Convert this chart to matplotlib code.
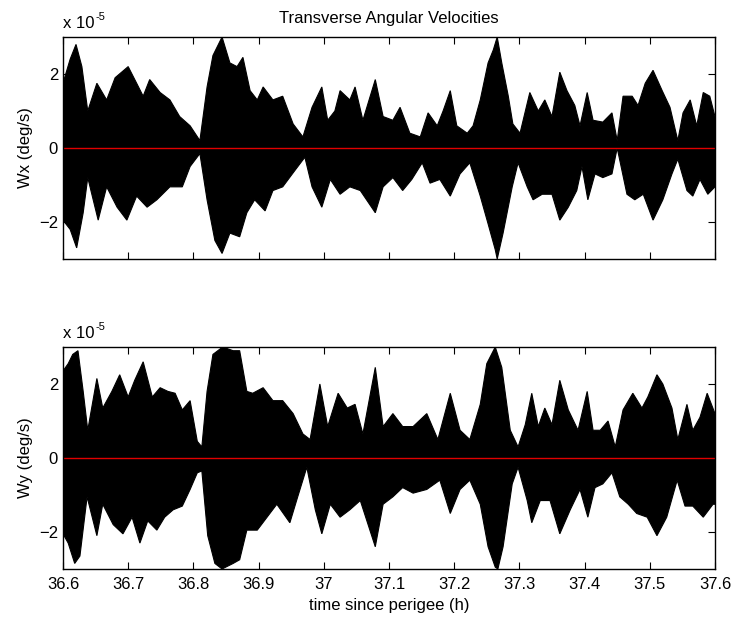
import numpy as np
import matplotlib
matplotlib.use("Agg")
import matplotlib.pyplot as plt

plt.rcParams['font.family'] = ['Liberation Sans', 'DejaVu Sans']

# ---- data (values in units of 1e-5 deg/s) ----
wx_up_t = [36.600, 36.611, 36.620, 36.629, 36.638, 36.652, 36.667, 36.680, 36.700, 36.713,
           36.723, 36.733, 36.749, 36.764, 36.779, 36.795, 36.810, 36.821, 36.830, 36.844,
           36.856, 36.867, 36.876, 36.887, 36.898, 36.907, 36.922, 36.937, 36.953, 36.968,
           36.982, 36.997, 37.006, 37.017, 37.025, 37.040, 37.048, 37.060, 37.079, 37.091,
           37.106, 37.117, 37.132, 37.148, 37.160, 37.174, 37.183, 37.194, 37.204, 37.220,
           37.229, 37.240, 37.252, 37.260, 37.266, 37.273, 37.283, 37.290, 37.301, 37.316,
           37.329, 37.339, 37.350, 37.362, 37.373, 37.385, 37.393, 37.404, 37.413, 37.428,
           37.442, 37.450, 37.459, 37.473, 37.482, 37.493, 37.505, 37.519, 37.531, 37.543,
           37.551, 37.562, 37.572, 37.582, 37.592, 37.600]
wx_up = [1.75, 2.4, 2.8, 2.2, 1.0, 1.75, 1.3, 1.9, 2.2, 1.75,
         1.4, 1.85, 1.5, 1.3, 0.85, 0.6, 0.2, 1.65, 2.5, 3.0,
         2.3, 2.2, 2.45, 1.55, 1.3, 1.65, 1.3, 1.4, 0.65, 0.3,
         1.1, 1.65, 0.75, 1.0, 1.55, 1.3, 1.65, 0.75, 1.85, 0.85,
         0.75, 1.1, 0.4, 0.3, 0.95, 0.6, 1.0, 1.55, 0.6, 0.4,
         0.6, 1.3, 2.3, 2.65, 3.0, 2.3, 1.4, 0.65, 0.4, 1.5,
         1.0, 1.3, 0.85, 2.05, 1.55, 1.15, 0.6, 1.5, 0.75, 0.7,
         0.95, 0.2, 1.4, 1.4, 1.15, 1.75, 2.1, 1.55, 1.1, 0.2,
         0.95, 1.3, 0.6, 1.5, 1.4, 0.85]

wx_lo_t = [36.600, 36.611, 36.621, 36.631, 36.638, 36.654, 36.667, 36.683, 36.698, 36.713,
           36.729, 36.744, 36.764, 36.783, 36.795, 36.810, 36.821, 36.833, 36.844, 36.856,
           36.871, 36.882, 36.894, 36.910, 36.922, 36.937, 36.956, 36.971, 36.982, 36.997,
           37.010, 37.025, 37.040, 37.056, 37.079, 37.091, 37.106, 37.121, 37.135, 37.151,
           37.163, 37.178, 37.194, 37.209, 37.224, 37.240, 37.252, 37.263, 37.266, 37.275,
           37.289, 37.298, 37.312, 37.321, 37.335, 37.350, 37.362, 37.375, 37.388, 37.396,
           37.405, 37.416, 37.428, 37.442, 37.450, 37.465, 37.477, 37.490, 37.505, 37.520,
           37.534, 37.543, 37.557, 37.566, 37.577, 37.589, 37.600]
wx_lo = [-1.95, -2.2, -2.7, -1.75, -0.8, -1.95, -1.05, -1.6, -1.95, -1.3,
         -1.6, -1.4, -1.05, -1.05, -0.5, -0.15, -1.4, -2.5, -2.85, -2.3,
         -2.4, -1.75, -1.4, -1.7, -1.15, -1.05, -0.6, -0.25, -1.05, -1.6,
         -0.85, -1.25, -1.05, -1.15, -1.75, -1.05, -0.8, -1.15, -0.85, -0.4,
         -0.95, -0.85, -1.3, -0.7, -0.4, -1.3, -2.05, -2.75, -3.0, -2.3,
         -1.05, -0.4, -1.05, -1.4, -1.25, -1.25, -1.95, -1.6, -1.15, -0.5,
         -1.4, -0.7, -0.8, -0.7, 0.0, -1.25, -1.4, -1.25, -1.95, -1.4,
         -0.7, -0.3, -1.15, -1.3, -0.85, -1.25, -1.05]

wy_up_t = [36.600, 36.608, 36.615, 36.623, 36.631, 36.638, 36.652, 36.661, 36.675, 36.687,
           36.700, 36.710, 36.723, 36.737, 36.749, 36.761, 36.772, 36.783, 36.795, 36.806,
           36.813, 36.821, 36.830, 36.845, 36.861, 36.871, 36.882, 36.891, 36.907, 36.922,
           36.937, 36.953, 36.968, 36.979, 36.994, 37.006, 37.022, 37.036, 37.048, 37.060,
           37.079, 37.091, 37.106, 37.121, 37.137, 37.158, 37.175, 37.194, 37.209, 37.224,
           37.240, 37.250, 37.263, 37.273, 37.286, 37.298, 37.309, 37.319, 37.329, 37.339,
           37.350, 37.362, 37.375, 37.390, 37.404, 37.413, 37.424, 37.436, 37.447, 37.459,
           37.474, 37.488, 37.497, 37.511, 37.520, 37.534, 37.543, 37.557, 37.566, 37.577,
           37.588, 37.600]
wy_up = [2.35, 2.55, 2.8, 2.9, 1.8, 0.75, 2.15, 1.35, 1.8, 2.25,
         1.65, 2.1, 2.6, 1.65, 1.9, 1.8, 1.75, 1.3, 1.55, 0.45,
         0.3, 1.8, 2.8, 3.0, 2.9, 2.9, 1.8, 1.75, 1.9, 1.55,
         1.55, 1.2, 0.65, 0.5, 2.0, 0.85, 1.75, 1.35, 1.45, 0.65,
         2.45, 0.85, 1.2, 0.85, 0.85, 1.2, 0.5, 1.75, 0.75, 0.5,
         1.45, 2.55, 3.0, 2.45, 0.75, 0.3, 0.9, 1.75, 0.85, 1.35,
         0.9, 2.1, 1.3, 0.75, 1.8, 0.75, 0.75, 1.0, 0.3, 1.3,
         1.75, 1.35, 1.65, 2.25, 2.0, 1.35, 0.5, 1.45, 0.75, 1.1,
         1.75, 1.2]

wy_lo_t = [36.600, 36.608, 36.618, 36.626, 36.637, 36.652, 36.661, 36.677, 36.692, 36.706,
           36.718, 36.730, 36.744, 36.756, 36.769, 36.783, 36.795, 36.806, 36.813, 36.822,
           36.833, 36.844, 36.861, 36.871, 36.882, 36.898, 36.913, 36.928, 36.948, 36.960,
           36.974, 36.987, 36.997, 37.010, 37.025, 37.040, 37.056, 37.079, 37.091, 37.106,
           37.121, 37.137, 37.158, 37.178, 37.194, 37.209, 37.224, 37.240, 37.252, 37.263,
           37.267, 37.275, 37.289, 37.298, 37.312, 37.319, 37.332, 37.347, 37.362, 37.378,
           37.393, 37.405, 37.416, 37.428, 37.442, 37.454, 37.467, 37.480, 37.496, 37.511,
           37.526, 37.542, 37.554, 37.566, 37.582, 37.597, 37.600]
wy_lo = [-2.05, -2.3, -2.85, -2.65, -1.05, -2.1, -1.25, -1.8, -2.05, -1.6,
         -2.3, -1.7, -1.95, -1.6, -1.4, -1.3, -0.85, -0.4, -0.35, -2.1,
         -2.85, -3.0, -2.85, -2.75, -1.95, -1.95, -1.6, -1.25, -1.75, -1.05,
         -0.25, -1.4, -2.05, -1.25, -1.6, -1.4, -1.15, -2.4, -1.25, -1.05,
         -0.8, -0.95, -0.85, -0.6, -1.5, -0.85, -0.6, -1.25, -2.4, -2.95,
         -3.0, -2.4, -0.7, -0.25, -1.15, -1.75, -1.15, -1.15, -2.05, -1.4,
         -0.85, -1.6, -0.8, -0.7, -0.4, -1.05, -1.25, -1.5, -1.6, -2.1,
         -1.6, -0.6, -1.3, -1.3, -1.6, -1.25, -1.25]

x_ticks = [36.6, 36.7, 36.8, 36.9, 37.0, 37.1, 37.2, 37.3, 37.4, 37.5, 37.6]
x_ticklabels = ['36.6', '36.7', '36.8', '36.9', '37', '37.1', '37.2', '37.3', '37.4', '37.5', '37.6']
y_ticks = [-2, 0, 2]

FS = 12

fig = plt.figure(figsize=(7.34, 6.19), dpi=100)
ax1 = fig.add_axes([0.0858, 0.5816, 0.8883, 0.3586])
ax2 = fig.add_axes([0.0858, 0.0808, 0.8883, 0.3586])

def draw(ax, tu, vu, tl, vl, ylabel):
    xs = list(tu) + list(tl)[::-1]
    ys = list(vu) + list(vl)[::-1]
    ax.fill(xs, ys, color='black', lw=0.8, edgecolor='black')
    ax.axhline(0, color='#e00000', lw=1.0)
    ax.set_xlim(36.6, 37.6)
    ax.set_ylim(-3, 3)
    ax.set_xticks(x_ticks)
    ax.set_yticks(y_ticks)
    ax.tick_params(direction='in', top=True, right=True, length=5, labelsize=FS, width=0.8)
    ax.tick_params(axis='x', pad=6)
    ax.set_ylabel(ylabel, fontsize=FS, labelpad=4)
    for s in ax.spines.values():
        s.set_linewidth(1.0)
    ax.annotate('x 10', xy=(0, 1), xycoords='axes fraction', xytext=(0, 9),
                textcoords='offset pixels', fontsize=FS, ha='left', va='baseline')
    ax.annotate('-5', xy=(0, 1), xycoords='axes fraction', xytext=(33, 17),
                textcoords='offset pixels', fontsize=8, ha='left', va='baseline')

draw(ax1, wx_up_t, wx_up, wx_lo_t, wx_lo, 'Wx (deg/s)')
draw(ax2, wy_up_t, wy_up, wy_lo_t, wy_lo, 'Wy (deg/s)')

ax1.set_xticklabels([])
ax2.set_xticklabels(x_ticklabels)
ax2.set_xlabel('time since perigee (h)', fontsize=FS, labelpad=4)
ax1.set_title('Transverse Angular Velocities', fontsize=FS, pad=10)

fig.savefig('out.png', dpi=100)
